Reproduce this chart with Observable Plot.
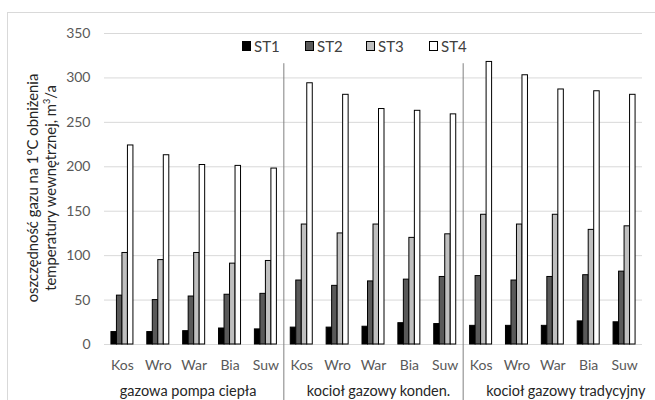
<!DOCTYPE html>
<html>
<head>
<meta charset="utf-8">
<script src="https://cdn.jsdelivr.net/npm/d3@7"></script>
<script src="https://cdn.jsdelivr.net/npm/@observablehq/plot@0.6"></script>
<style>
  html, body { margin: 0; padding: 0; background: #fff; overflow: hidden; }
  body { width: 655px; height: 400px; position: relative; font-family: Lato, "Open Sans", sans-serif; }
  #frame { position: absolute; left: 7px; top: 12px; width: 700px; height: 420px;
           border-left: 1px solid #d9d9d9; border-top: 1px solid #d9d9d9; box-sizing: border-box; }
  #chart { position: absolute; left: 0; top: 0; }
  #legend { position: absolute; left: 215px; top: 34px; width: 273px; height: 24px; background: #fff;
            display: flex; align-items: center; font-size: 15px; color: #404040; }
  #legend .item { position: absolute; display: flex; align-items: center; }
  #legend .sw { width: 7px; height: 8px; border: 1px solid #000; margin-right: 3px; }
  #ytitle { position: absolute; left: 41px; top: 188px; width: 320px; transform: translate(-50%, -50%) rotate(-90deg);
            text-align: center; font-size: 14.8px; line-height: 18px; color: #262626; white-space: nowrap; }
</style>
</head>
<body>
<div id="frame"></div>
<div id="chart"></div>
<div id="legend"></div>
<div id="ytitle">oszczędność gazu na 1°C obniżenia<br>temperatury wewnętrznej, m<sup style="font-size:9px;line-height:0">3</sup>/a</div>
<script>
const groups = ["gazowa pompa ciepła", "kocioł gazowy konden.", "kocioł gazowy tradycyjny"];
const cities = ["Kos", "Wro", "War", "Bia", "Suw"];
const series = ["ST1", "ST2", "ST3", "ST4"];
const st1 = [14, 14, 15, 18, 17,   19, 19, 20, 24, 23,   21, 21, 21, 26, 25];
const st2 = [55, 50, 54, 56, 57,   72, 66, 71, 73, 76,   77, 72, 76, 78, 82];
const st3 = [103, 95, 103, 91, 94, 135, 125, 135, 120, 124, 146, 135, 146, 129, 133];
const st4 = [224, 213, 202, 201, 198, 294, 281, 265, 263, 259, 318, 303, 287, 285, 281];
const yTicks = [0, 50, 100, 150, 200, 250, 300, 350];
const colors = ["#000000", "#595959", "#bfbfbf", "#ffffff"];

const values = [st1, st2, st3, st4];
const keys = [];
groups.forEach((g, gi) => cities.forEach((c, ci) => keys.push({key: `${gi}-${c}`, group: g, gi, city: c})));
const rows = [];
keys.forEach((k, i) => series.forEach((s, si) => rows.push({...k, series: s, si, value: values[si][i]})));

const width = 655, height = 400, mL = 104, mR = 13, mT = 33, mB = 56;
const bw = (width - mL - mR) / keys.length;
const barW = 5.5, cluster = barW * series.length;
const labelShift = [-6, 5, 13];

const bars = series.map((s, si) => {
  const inL = (bw - cluster) / 2 + si * barW;
  return Plot.barY(rows.filter(d => d.si === si), {
    x: "key", y: "value", fill: colors[si], stroke: "#000", strokeWidth: 1,
    insetLeft: inL, insetRight: bw - inL - barW
  });
});

const groupStarts = keys.filter((k, i) => i > 0 && keys[i - 1].gi !== k.gi);
const groupMids = keys.filter(k => k.city === cities[2]);

const chart = Plot.plot({
  width, height, marginLeft: mL, marginRight: mR, marginTop: mT, marginBottom: mB,
  style: {fontFamily: "Lato, 'Open Sans', sans-serif", background: "transparent", overflow: "visible"},
  x: {type: "band", domain: keys.map(k => k.key), padding: 0, round: false, axis: null},
  y: {domain: [0, 350], axis: null},
  marks: [
    Plot.ruleY(yTicks, {stroke: "#d9d9d9", strokeWidth: 1}),
    Plot.text(yTicks, {x: () => keys[0].key, y: d => d, text: d => String(d), textAnchor: "end",
      dx: -bw / 2 - 14, fontSize: 14, fill: "#595959"}),
    ...bars,
    Plot.ruleX(groupStarts, {x: "key", dx: -bw / 2, y1: 316, y2: -70, stroke: "#808080", strokeWidth: 1, clip: false}),
    Plot.text(keys, {x: "key", y: () => 0, text: "city", dy: 21, fontSize: 14, fill: "#595959"}),
    ...groupMids.map((k, gi) => Plot.text([k], {x: "key", y: () => 0, text: "group", dy: 47, dx: labelShift[gi],
      fontSize: 14.5, fill: "#262626"}))
  ]
});
document.getElementById("chart").appendChild(chart);

const legend = document.getElementById("legend");
const legendX = [27, 90, 151, 214];
series.forEach((s, si) => {
  const it = document.createElement("div");
  it.className = "item";
  it.style.left = legendX[si] + "px";
  it.innerHTML = `<span class="sw" style="background:${colors[si]}"></span><span>${s}</span>`;
  legend.appendChild(it);
});
</script>
</body>
</html>
